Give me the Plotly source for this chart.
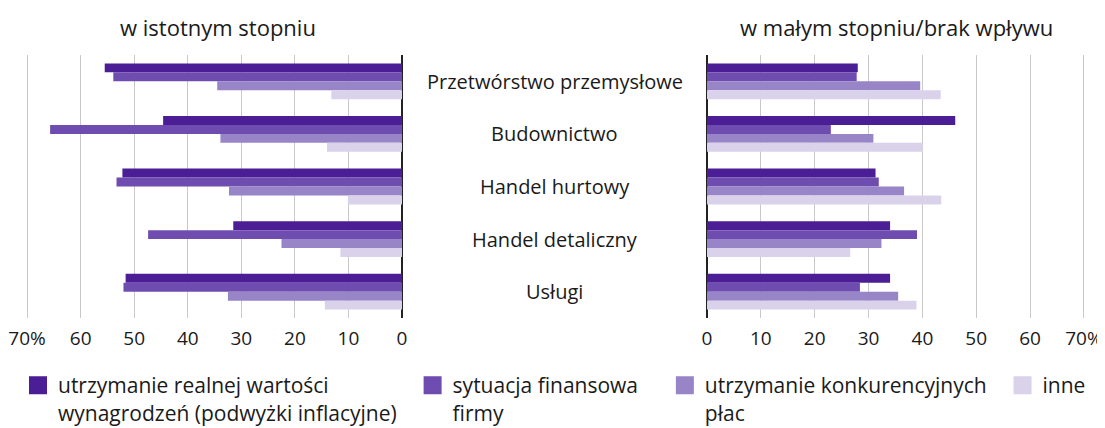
import plotly.graph_objects as go

categories = ["Przetwórstwo przemysłowe", "Budownictwo", "Handel hurtowy", "Handel detaliczny", "Usługi"]
series_names = [
    "utrzymanie realnej wartości<br>wynagrodzeń (podwyżki inflacyjne)\u00a0\u00a0",
    "sytuacja finansowa\u00a0\u00a0\u00a0\u00a0<br>firmy",
    "utrzymanie konkurencyjnych\u00a0\u00a0<br>płac",
    "inne",
]
colors = ["#4b1e96", "#6f4caf", "#9785c7", "#dad2ea"]

# w istotnym stopniu (left panel)
left_realna = [55.5, 44.6, 52.2, 31.5, 51.6]
left_finansowa = [53.9, 65.7, 53.3, 47.4, 52.0]
left_konkur = [34.5, 33.9, 32.3, 22.5, 32.5]
left_inne = [13.2, 14.0, 10.1, 11.5, 14.4]

# w małym stopniu / brak wpływu (right panel)
right_realna = [28.0, 46.1, 31.3, 34.0, 34.0]
right_finansowa = [27.8, 23.0, 31.9, 39.0, 28.4]
right_konkur = [39.6, 30.9, 36.6, 32.4, 35.5]
right_inne = [43.4, 40.1, 43.5, 26.6, 38.9]

left_series = [left_realna, left_finansowa, left_konkur, left_inne]
right_series = [right_realna, right_finansowa, right_konkur, right_inne]

tick_vals = [0, 10, 20, 30, 40, 50, 60, 70]
tick_text = ["0", "10", "20", "30", "40", "50", "60", "70%"]

FONT = "'Open Sans', Roboto, sans-serif"
TXT = "#1a1a1a"

fig = go.Figure()
for i in range(4):
    fig.add_trace(go.Bar(
        y=categories, x=left_series[i], orientation="h", name=series_names[i],
        marker=dict(color=colors[i], line=dict(width=0)),
        xaxis="x", yaxis="y", legendgroup=str(i), showlegend=False,
        hoverinfo="x",
    ))
for i in range(4):
    fig.add_trace(go.Bar(
        y=categories, x=right_series[i], orientation="h", name=series_names[i],
        marker=dict(color=colors[i], line=dict(width=0)),
        xaxis="x2", yaxis="y2", legendgroup=str(i), showlegend=False,
        hoverinfo="x",
    ))
# legend entries (square swatches)
for i in range(4):
    fig.add_trace(go.Scatter(
        x=[None], y=[None], mode="markers", name=series_names[i],
        marker=dict(symbol="square", size=16, color=colors[i], line=dict(width=2, color=colors[i])),
        xaxis="x", yaxis="y", legendgroup=str(i), showlegend=True, hoverinfo="skip",
    ))

# page has an 8px body margin, so the figure is laid out 8px smaller
OFF = 8
W, H = 1105 - OFF, 428 - OFF
ml, mr, mt, mb = 26 - OFF, 20, 55 - OFF, 110
pw = W - ml - mr
ph = H - mt - mb
left_end = (402 - OFF - ml) / pw
right_start = (707 - OFF - ml) / pw

axis_common = dict(
    tickvals=tick_vals, ticktext=tick_text, showgrid=True, gridcolor="#c9c9c9", gridwidth=1,
    zeroline=True, zerolinecolor="#222222", zerolinewidth=2, showline=False,
    ticks="", tickfont=dict(size=19, color=TXT, family=FONT), ticklabelstandoff=7,
    ticklabeloverflow="allow", fixedrange=True, automargin=False,
)

fig.update_layout(
    width=W, height=H,
    margin=dict(l=ml, r=mr, t=mt, b=mb, autoexpand=False),
    paper_bgcolor="white", plot_bgcolor="white",
    font=dict(family=FONT, color=TXT, size=19),
    barmode="group", bargap=0.32, bargroupgap=0,
    xaxis=dict(domain=[0, left_end], range=[70.2, 0], **axis_common),
    xaxis2=dict(domain=[right_start, 1], range=[0, 70.2], **axis_common),
    yaxis=dict(domain=[0, 1], autorange="reversed", showticklabels=False, showgrid=False, zeroline=False, fixedrange=True, automargin=False),
    yaxis2=dict(domain=[0, 1], autorange="reversed", showticklabels=False, showgrid=False, zeroline=False, anchor="x2", fixedrange=True, automargin=False),
    legend=dict(
        orientation="h", xref="paper", x=(10 - ml) / pw, xanchor="left",
        yref="paper", y=((H - mb) - 357) / ph, yanchor="top",
        font=dict(size=21, color=TXT, family=FONT), valign="top",
        itemwidth=30, itemsizing="trace", tracegroupgap=0, traceorder="normal",
    ),
    showlegend=True,
)

# panel titles
fig.add_annotation(text="w istotnym stopniu", xref="paper", yref="paper",
                   x=(218 - OFF - ml) / pw, y=1 + (mt - (27 - OFF)) / ph, xanchor="center", yanchor="middle",
                   showarrow=False, font=dict(size=22, color=TXT, family=FONT))
fig.add_annotation(text="w małym stopniu/brak wpływu", xref="paper", yref="paper",
                   x=(896 - OFF - ml) / pw, y=1 + (mt - (27 - OFF)) / ph, xanchor="center", yanchor="middle",
                   showarrow=False, font=dict(size=22, color=TXT, family=FONT))

# category labels in the middle
for c in categories:
    fig.add_annotation(text=c, xref="paper", yref="y", x=(left_end + right_start) / 2, y=c,
                       xanchor="center", yanchor="middle", showarrow=False,
                       font=dict(size=20, color=TXT, family=FONT))

fig.write_html("out.html")
